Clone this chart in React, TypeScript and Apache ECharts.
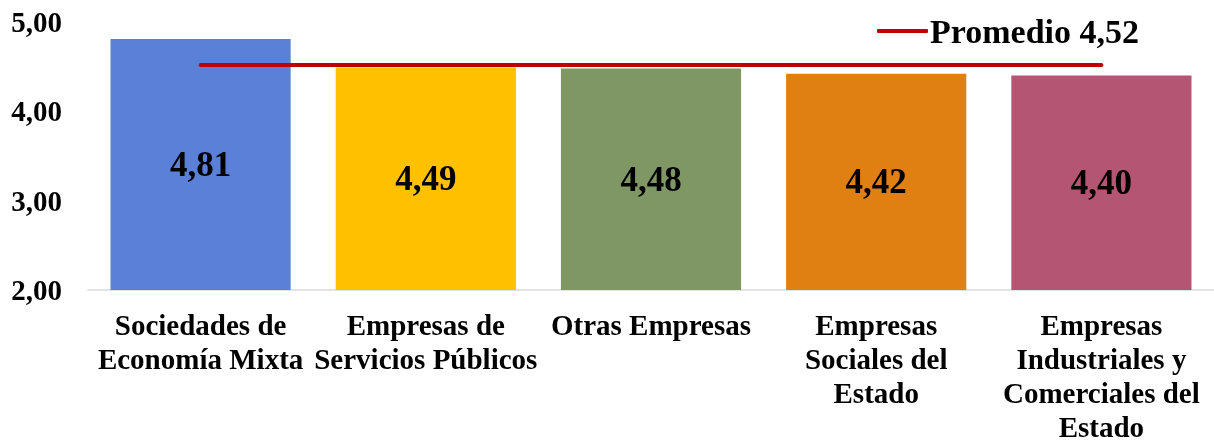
import React, { useEffect, useRef } from "react";
import * as echarts from "echarts";

const categories = [
  "Sociedades de\nEconomía Mixta",
  "Empresas de\nServicios Públicos",
  "Otras Empresas",
  "Empresas\nSociales del\nEstado",
  "Empresas\nIndustriales y\nComerciales del\nEstado",
];
const values = [4.81, 4.49, 4.48, 4.42, 4.4];
const average = 4.52;
const averageName = "Promedio 4,52";
const barColors = ["#5A81D7", "#FFC000", "#7F9665", "#E07F12", "#B45574"];
const yTicks = { min: 2, max: 5, interval: 1 };

const fmt = (v: number) => v.toFixed(2).replace(".", ",");
const FONT = "'Liberation Serif', 'Times New Roman', serif";

export default function App() {
  const ref = useRef<HTMLDivElement>(null);
  useEffect(() => {
    if (!ref.current) return;
    const chart = echarts.init(ref.current, null, { renderer: "svg" });
    chart.setOption({
      animation: false,
      textStyle: { fontFamily: FONT },
      grid: { left: 88, right: -2, top: 22, bottom: 151, containLabel: false },
      legend: {
        data: [{ name: averageName, icon: "roundRect" }],
        left: 872,
        top: 9,
        itemWidth: 51,
        itemHeight: 4,
        itemGap: 5,
        itemStyle: { color: "#C00000" },
        textStyle: { fontFamily: FONT, fontWeight: "bold", fontSize: 34, color: "#000", padding: [0, 0, 0, -3] },
      },
      xAxis: {
        type: "category",
        data: categories,
        axisLine: { show: true, lineStyle: { color: "#D9D9D9", width: 1.5 } },
        axisTick: { show: false },
        axisLabel: {
          interval: 0,
          margin: 18,
          fontFamily: FONT,
          fontWeight: "bold",
          fontSize: 29,
          lineHeight: 34,
          color: "#000",
        },
      },
      yAxis: {
        type: "value",
        min: yTicks.min,
        max: yTicks.max,
        interval: yTicks.interval,
        splitLine: { show: false },
        axisLine: { show: false },
        axisTick: { show: false },
        axisLabel: {
          margin: 26,
          fontFamily: FONT,
          fontWeight: "bold",
          fontSize: 29,
          color: "#000",
          formatter: (v: number) => fmt(v),
        },
      },
      series: [
        {
          type: "bar",
          barWidth: "80%",
          data: values.map((v, i) => ({ value: v, itemStyle: { color: barColors[i] } })),
          label: {
            show: true,
            position: "inside",
            fontFamily: FONT,
            fontWeight: "bold",
            fontSize: 35,
            color: "#000",
            formatter: (p: any) => fmt(p.value),
          },
          z: 1,
        },
        {
          type: "line",
          name: averageName,
          data: categories.map(() => average),
          symbol: "none",
          color: "#C00000",
          lineStyle: { color: "#C00000", width: 4, cap: "round" },
          z: 3,
        },
      ],
    });
    return () => chart.dispose();
  }, []);
  return <div ref={ref} style={{ position: "fixed", left: 0, top: 0, width: 1214, height: 444 }} />;
}
